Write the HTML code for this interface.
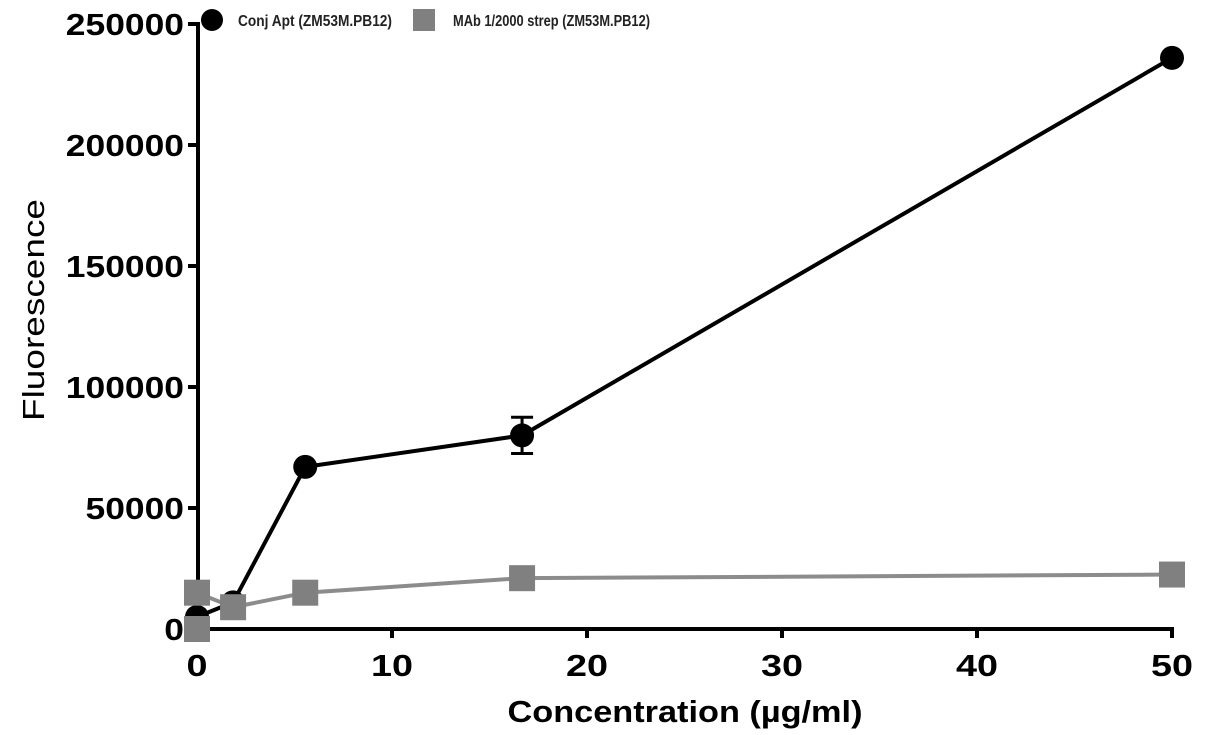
<!DOCTYPE html>
<html><head><meta charset="utf-8"><style>
body{margin:0;background:#fff}
svg{display:block;font-family:"Liberation Sans",Arial,sans-serif}
</style></head><body>
<svg id="chart" width="1205" height="735">
<g id="axes"></g><g id="series"></g>
<text x="685" y="722" text-anchor="middle" font-size="31" font-weight="bold" textLength="355" lengthAdjust="spacingAndGlyphs">Concentration (µg/ml)</text>
<text transform="translate(44,310) rotate(-90)" text-anchor="middle" font-size="31" textLength="222" lengthAdjust="spacingAndGlyphs">Fluorescence</text>
<g>
<circle cx="212" cy="20" r="11" fill="#000"/>
<text x="238" y="26" font-size="16" font-weight="bold" fill="#222" textLength="154" lengthAdjust="spacingAndGlyphs">Conj Apt (ZM53M.PB12)</text>
<rect x="413" y="9" width="22" height="22" fill="#808080"/>
<text x="453" y="26" font-size="16" font-weight="bold" fill="#222" textLength="197" lengthAdjust="spacingAndGlyphs">MAb 1/2000 strep (ZM53M.PB12)</text>
</g>
</svg>
<script>
const xTicks=[0,10,20,30,40,50];
const yTicks=[0,50000,100000,150000,200000,250000];
const conjX=[0,1.85,5.55,16.67,50];
const conjY=[5000,11000,67000,80000,236000];
const conjErr=[0,0,0,7500,0];
const mabX=[0,0,1.85,5.55,16.67,50];
const mabY=[0,15000,9000,15000,21000,22500];
const NS='http://www.w3.org/2000/svg';
const sx=v=>197+v*19.5;
const sy=v=>629-v*605/250000;
function mk(t,a,p){const e=document.createElementNS(NS,t);for(const k in a)e.setAttribute(k,a[k]);p.appendChild(e);return e;}
const ax=document.getElementById('axes'),se=document.getElementById('series');
let l=mk('line',{x1:198,y1:22,x2:198,y2:629,stroke:'#000','stroke-width':4},ax);


l=mk('line',{x1:196,y1:629,x2:1174,y2:629,stroke:'#000','stroke-width':4},ax);


xTicks.forEach(v=>{
 mk('line',{x1:sx(v),y1:629,x2:sx(v),y2:638,stroke:'#000','stroke-width':4},ax);
 const s=String(v);
 const t=mk('text',{x:sx(v),y:676,'text-anchor':'middle','font-size':31,'font-weight':'bold',textLength:s.length*21,lengthAdjust:'spacingAndGlyphs'},ax);t.textContent=s;
 
 
});
yTicks.forEach(v=>{
 mk('line',{x1:188,y1:sy(v),x2:198,y2:sy(v),stroke:'#000','stroke-width':4},ax);
 const s=String(v);
 const t=mk('text',{x:184,y:sy(v)+11,'text-anchor':'end','font-size':31,'font-weight':'bold',textLength:s.length*19.7,lengthAdjust:'spacingAndGlyphs'},ax);t.textContent=s;
 
 
});
let p=mk('polyline',{points:mabX.map((x,i)=>sx(x)+','+sy(mabY[i])).join(' '),fill:'none',stroke:'#8c8c8c','stroke-width':4},se);


p=mk('polyline',{points:conjX.map((x,i)=>sx(x)+','+sy(conjY[i])).join(' '),fill:'none',stroke:'#000','stroke-width':4},se);


conjX.forEach((x,i)=>{
 if(conjErr[i]){const a=sy(conjY[i]+conjErr[i]),b=sy(conjY[i]-conjErr[i]);
  mk('path',{d:`M${sx(x)},${a}V${b}M${sx(x)-11},${a}H${sx(x)+11}M${sx(x)-11},${b}H${sx(x)+11}`,stroke:'#000','stroke-width':3,fill:'none'},se);}
 const c=mk('circle',{cx:sx(x),cy:sy(conjY[i]),r:12,fill:'#000'},se);
 
 
});
mabX.forEach((x,i)=>{
 const r=mk('rect',{x:sx(x)-13,y:sy(mabY[i])-13,width:26,height:26,fill:'#808080'},se);
 
 
});
</script>
</body></html>
